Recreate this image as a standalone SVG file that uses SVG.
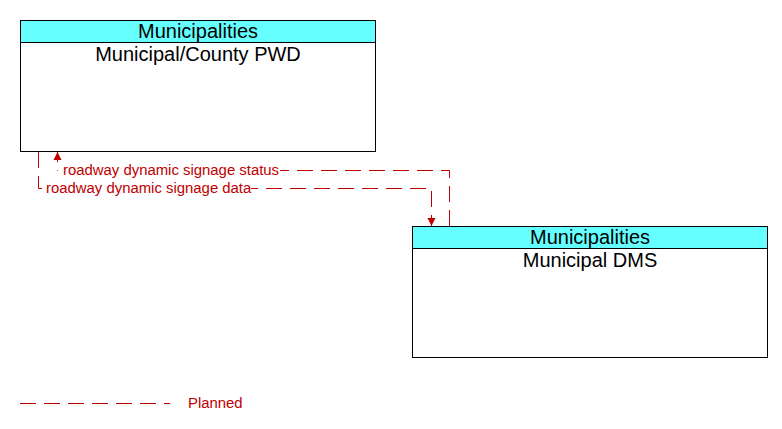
<svg xmlns="http://www.w3.org/2000/svg" width="782" height="429" viewBox="0 0 782 429">
<style>
.box{fill:#fff;stroke:#000;stroke-width:1}
.hdr{fill:#66ffff;stroke:#000;stroke-width:1}
.t{font-family:"Liberation Sans",Arial,sans-serif;font-size:20px;fill:#000;text-anchor:middle}
.lbl{font-family:"Liberation Sans",Arial,sans-serif;font-size:14.9px;fill:#c00000}
.bg{fill:#fff}
.flow{fill:none;stroke:#c00000;stroke-width:1;stroke-dasharray:16,8}
</style>
<defs>
<marker id="ah" markerWidth="10" markerHeight="10" refX="9" refY="5" orient="auto" markerUnits="userSpaceOnUse" viewBox="0 0 10 10">
<path d="M1,1 L9,5 L1,9 Z" fill="#c00000"/>
</marker>
</defs>
<rect width="782" height="429" fill="#fff"/>
<g id="node-pwd">
<rect class="box" x="20.5" y="20.5" width="355" height="131"/>
<rect class="hdr" x="20.5" y="20.5" width="355" height="22"/>
<text class="t" x="198" y="38">Municipalities</text>
<text class="t" x="198" y="61">Municipal/County PWD</text>
</g>
<g id="node-dms">
<rect class="box" x="412.5" y="226.5" width="355" height="131"/>
<rect class="hdr" x="412.5" y="226.5" width="355" height="22"/>
<text class="t" x="590" y="244">Municipalities</text>
<text class="t" x="590" y="267">Municipal DMS</text>
</g>
<g id="connectors">
<path class="flow" d="M449.5,226 L449.5,170.5 L57.5,170.5 L57.5,152" marker-end="url(#ah)"/>
<path class="flow" d="M38.5,152 L38.5,188.5 L431.5,188.5 L431.5,226" marker-end="url(#ah)"/>
<rect class="bg" x="58" y="162" width="222" height="16"/>
<text class="lbl" x="63" y="175">roadway dynamic signage status</text>
<rect class="bg" x="45" y="180" width="206" height="16"/>
<text class="lbl" x="46" y="193">roadway dynamic signage data</text>
</g>
<g id="legend">
<line class="flow" x1="20" y1="403.5" x2="170" y2="403.5"/>
<text class="lbl" x="188" y="408">Planned</text>
</g>
</svg>
